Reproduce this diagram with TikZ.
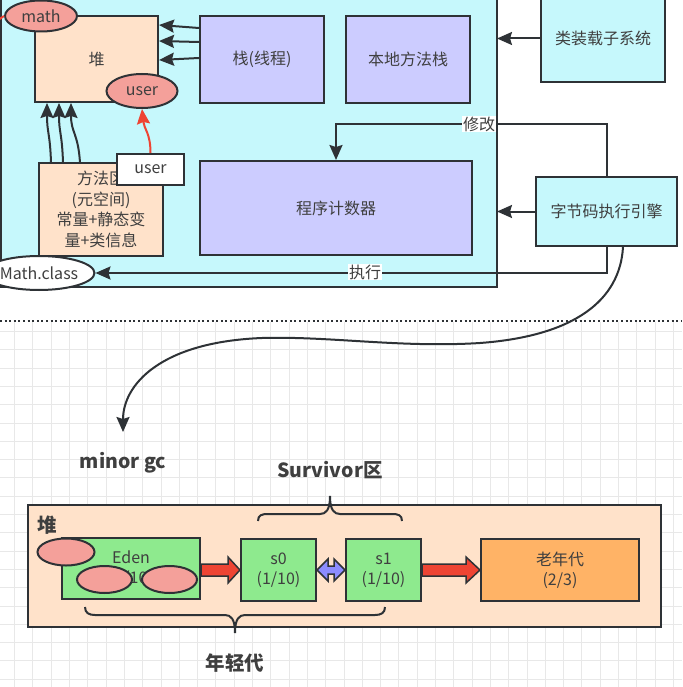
\documentclass[tikz,border=0pt]{standalone}
\usepackage{fontspec}
\setmainfont{Noto Sans CJK SC}
\usetikzlibrary{arrows.meta,calc,shapes.geometric}
\definecolor{ln}{HTML}{2E3236}
\definecolor{txt}{HTML}{3F3F3F}
\definecolor{cyanbg}{HTML}{C6F8FC}
\definecolor{peach}{HTML}{FFE2CA}
\definecolor{purp}{HTML}{CCCCFF}
\definecolor{pink}{HTML}{F4A09A}
\definecolor{grn}{HTML}{8EEA8E}
\definecolor{orng}{HTML}{FFB366}
\definecolor{redar}{HTML}{EE4433}
\definecolor{bluar}{HTML}{8C8CFF}
\definecolor{gridc}{HTML}{E8E8E8}
\newcommand\fsn{\fontsize{16}{20}\selectfont}
\newcommand\fsh{\fontsize{19.5}{23}\selectfont\bfseries}
\begin{document}
\begin{tikzpicture}[x=1pt,y=-1pt,
  box/.style={draw=ln, line width=2pt, inner sep=0pt, align=center, text=txt, font=\fsn},
  ell/.style={ellipse, draw=ln, line width=2pt, fill=pink, inner sep=0pt, text=txt, font=\fsn},
  arr/.style={draw=ln, line width=2pt, -{Stealth[length=15pt,width=13pt,inset=2pt]}},
  redarr/.style={draw=redar, line width=2pt, -{Stealth[length=15pt,width=13pt,inset=2pt]}},
  lbl/.style={fill=white, inner sep=1pt, text=txt, font=\fsn},
  head/.style={text=txt, font=\fsh, inner sep=0pt},
  gridline/.style={draw=gridc, line width=0.8pt}]
\clip (0,0) rectangle (682,687);
\fill[white] (0,0) rectangle (682,687);
% grid (lower half)
\foreach \i in {0,...,37} {\draw[gridline] ({14.5+18.3*\i},322) -- ({14.5+18.3*\i},687);}
\foreach \j in {0,...,19} {\draw[gridline] (0,{331.4+18.3*\j}) -- (682,{331.4+18.3*\j});}
% separator
\draw[ln, line width=2.2pt, dash pattern=on 2pt off 2.6pt] (0,321) -- (682,321);

% upper part
\draw[draw=ln, line width=2pt, fill=cyanbg] (1,-10) rectangle (497,287);
\node[box, fill=peach, minimum width=123pt, minimum height=86pt] (heap) at (96.5,59) {堆};
\node[box, fill=purp, minimum width=124pt, minimum height=87pt] (stack) at (262,59.5) {栈(线程)};
\node[box, fill=purp, minimum width=124pt, minimum height=87pt] (local) at (408,59.5) {本地方法栈};
\node[box, fill=cyanbg, minimum width=124pt, minimum height=87pt] (loader) at (603,38.5) {类装载子系统};
\node[box, fill=purp, minimum width=272pt, minimum height=94pt] (pc) at (336,208) {程序计数器};
\node[box, fill=cyanbg, minimum width=141pt, minimum height=69pt] (engine) at (606.5,211.5) {字节码执行引擎};
\node[box, fill=peach, minimum width=124pt, minimum height=92pt, font=\fontsize{16}{20.5}\selectfont] (meth) at (101,209.5) {方法区\\(元空间)\\常量+静态变\\量+类信息};
\node[box, fill=white, minimum width=67pt, minimum height=31pt] (ubox) at (150.5,169.5) {user};
\node[ell, minimum width=72pt, minimum height=31pt] (mathe) at (41,16) {math};
\node[ell, minimum width=71pt, minimum height=34pt] (uell) at (142,91) {user};
\node[ell, fill=white, minimum width=110pt, minimum height=34pt] (mathc) at (39,273) {Math.class};

\coordinate (r0) at (-6,23);
\draw[draw=redar, line width=2pt] (r0) -- (mathe.west);

% stack -> heap
\draw[arr] ($(stack.west)+(0,-31.5)$) -- ($(heap.east)+(0,-34)$);
\draw[arr] ($(stack.west)+(0,-17.5)$) -- ($(heap.east)+(0,-18)$);
\draw[arr] ($(stack.west)+(0,-1.5)$) -- ($(heap.east)+(0,1)$);
% method area -> heap
\draw[arr] ($(meth.north west)+(13,0)$) .. controls +(-1,-30) and +(0,30) .. ($(heap.south west)+(13,0)$);
\draw[arr] ($(meth.north west)+(25,0)$) .. controls +(-1,-30) and +(0,30) .. ($(heap.south west)+(25,0)$);
\draw[arr] ($(meth.north west)+(42,0)$) .. controls +(-2,-30) and +(0,30) .. ($(heap.south west)+(37,0)$);
% user box -> user ellipse
\draw[redarr] (ubox.north) .. controls +(0,-20) and +(2,20) .. (uell.south);

% class loader, engine -> cyan box
\coordinate (c1) at (497,38.5);
\coordinate (c2) at (497,211.5);
\draw[arr] (loader.west) -- (c1);
\draw[arr] (engine.west) -- (c2);
% 修改
\coordinate (m2) at (336,124);
\draw[arr] (engine.north) |- (m2) -- (m2 |- pc.north);
\node[lbl] (xg) at (479,124) {修改};
% 执行
\draw[arr] (engine.south) |- (mathc.east);
\node[lbl] (zx) at (365,272) {执行};

% big curve
\coordinate (mg) at (123,432);
\draw[arr] ($(engine.south)+(16.5,0)$) .. controls (620,300) and (575,336) .. (480,343)
  .. controls (400,348) and (330,336) .. (262,338)
  .. controls (160,342) and (123,385) .. (mg);

\node[head] (minor) at (123,463) {minor gc};
\node[head] (surv) at (330,470) {Survivor区};

% lower heap
\draw[draw=ln, line width=2pt, fill=peach] (28,505) rectangle (661,627);
\node[head] (dui) at (47,525) {堆};
\node[box, fill=grn, minimum width=138pt, minimum height=61pt] (eden) at (131,568.5) {Eden\\(8/10)};
\node[box, fill=grn, minimum width=75pt, minimum height=62pt] (s0) at (278.5,570) {s0\\(1/10)};
\node[box, fill=grn, minimum width=75pt, minimum height=62pt] (s1) at (383.5,570) {s1\\(1/10)};
\node[box, fill=orng, minimum width=158pt, minimum height=62pt] (old) at (560,570) {老年代\\(2/3)};
\node[ell, minimum width=57pt, minimum height=27pt] (e1) at (66,552) {};
\node[ell, minimum width=55pt, minimum height=27pt] (e2) at (104.5,579.5) {};
\node[ell, minimum width=55pt, minimum height=27pt] (e3) at (169.5,579.5) {};

% block arrows
\draw[draw=ln, line width=1.5pt, fill=redar, line join=miter]
  (eden.east |- 0,564) -- (228,564) -- (228,557) -- (s0.west) -- (228,583) -- (228,576) -- (eden.east |- 0,576) -- cycle;
\draw[draw=ln, line width=1.5pt, fill=redar, line join=miter]
  (s1.east |- 0,564) -- (466,564) -- (466,557) -- (old.west) -- (466,583) -- (466,576) -- (s1.east |- 0,576) -- cycle;
\draw[draw=ln, line width=1.5pt, fill=bluar, line join=miter]
  (s0.east) -- (328,559) -- (328,566) -- (334,566) -- (334,559) -- (s1.west) -- (334,581) -- (334,574) -- (328,574) -- (328,581) -- cycle;

% braces
\draw[ln, line width=2pt] (258,521) .. controls (258,515) and (262,514) .. (268,514) -- (320,514)
  .. controls (326,514) and (330,510) .. (330,496) .. controls (330,510) and (334,514) .. (340,514)
  -- (392,514) .. controls (398,514) and (402,515) .. (402,521);
\draw[ln, line width=2pt] (85,607) .. controls (85,613) and (89,615) .. (95,615) -- (225,615)
  .. controls (231,615) and (235,619) .. (235,633) .. controls (235,619) and (239,615) .. (245,615)
  -- (375,615) .. controls (381,615) and (385,613) .. (385,607);
\node[head] (ygen) at (235,663) {年轻代};
\end{tikzpicture}
\end{document}
